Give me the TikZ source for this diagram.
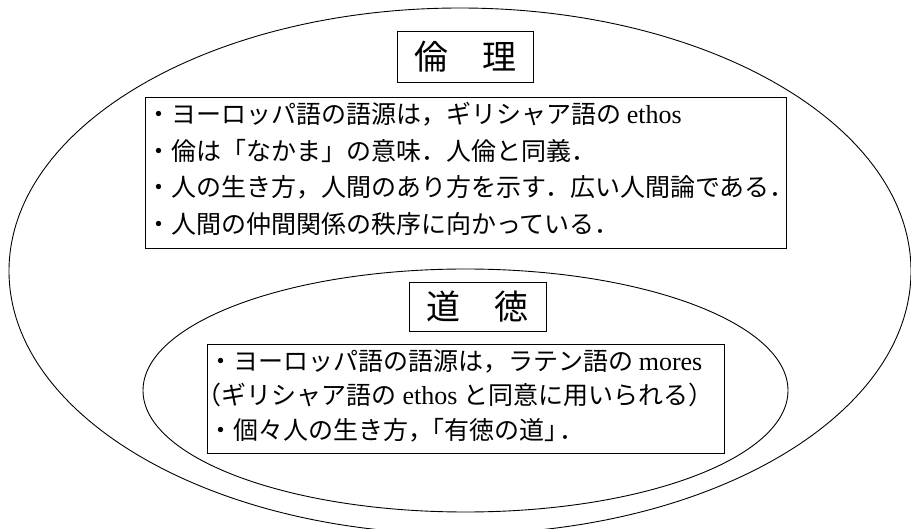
\documentclass[tikz,border=0pt]{standalone}
\usepackage{fontspec}
\newfontfamily\jp{Noto Sans CJK JP}
\newfontfamily\lat{Liberation Serif}
\begin{document}
\begin{tikzpicture}[x=1pt,y=1pt,
  frame/.style={draw, line width=0.9pt, inner sep=0pt},
  oval/.style={draw, line width=0.9pt},
  txt/.style={anchor=base west, inner sep=0pt, font=\jp\fontsize{25}{25}\selectfont},
  ttl/.style={inner sep=0pt, font=\jp\fontsize{34}{34}\selectfont}]
\fill[white] (0,0) rectangle (911,-529);
\useasboundingbox (0,0) rectangle (911,-529);
% ellipses
\coordinate (outerc) at (460,-271);
\coordinate (innerc) at (465.5,-390.5);
\draw[oval] (outerc) ellipse [x radius=451, y radius=263];
\draw[oval] (innerc) ellipse [x radius=322.5, y radius=121.5];
% title boxes
\node[frame, minimum width=136pt, minimum height=51pt] (t1) at (465,-56.5) {};
\node[ttl] (t1txt) at (t1.center) {倫　理};
\node[frame, minimum width=137pt, minimum height=49pt] (t2) at (477.5,-306.5) {};
\node[ttl] (t2txt) at (t2.center) {道　徳};
% text box 1
\node[frame, minimum width=641pt, minimum height=151pt] (b1) at (465.5,-172.5) {};
\node[txt] (l1) at (146,-124) {・ヨーロッパ語の語源は，ギリシャア語の {\lat\fontsize{26}{26}\selectfont ethos}};
\node[txt] (l2) at (146,-161) {・倫は「なかま」の意味．人倫と同義．};
\node[txt] (l3) at (146,-197) {・人の生き方，人間のあり方を示す．広い人間論である．};
\node[txt] (l4) at (146,-234) {・人間の仲間関係の秩序に向かっている．};
% text box 2
\node[frame, minimum width=517pt, minimum height=109pt] (b2) at (465.5,-398.5) {};
\node[txt] (m1) at (208,-371) {・ヨーロッパ語の語源は，ラテン語の {\lat\fontsize{26}{26}\selectfont mores}};
\node[txt] (m2) at (208,-405) {\kern-0.45em（ギリシャア語の {\lat\fontsize{26}{26}\selectfont ethos} と同意に用いられる）};
\node[txt] (m3) at (208,-439) {・個々人の生き方，\kern-0.55em「有徳の道」\kern-0.4em．};
\end{tikzpicture}
\end{document}
